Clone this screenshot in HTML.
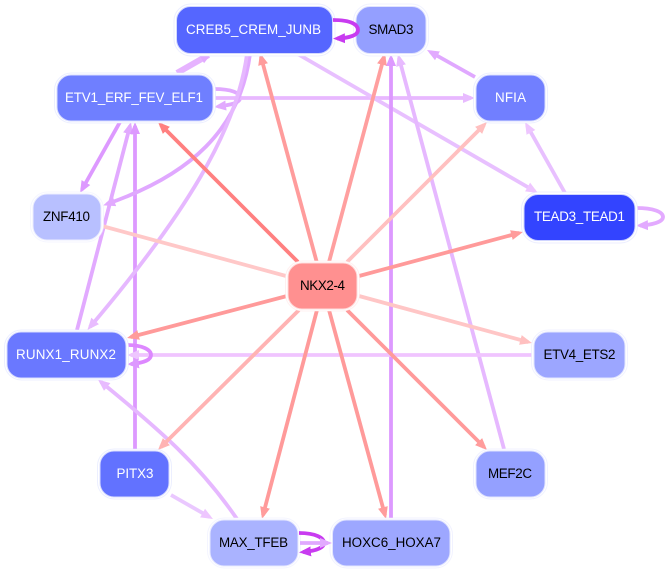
<!DOCTYPE html>
<html>
<head>
<meta charset="utf-8">
<style>
html,body{margin:0;padding:0;background:#fff;}
svg{display:block;}
text{font-family:"Liberation Sans",sans-serif;font-size:13.4px;text-anchor:middle;}
.e{fill:none;stroke-width:3.8;}
.o{fill:#fff;stroke-width:1;stroke-opacity:.6;}
</style>
</head>
<body>
<svg width="666" height="572" viewBox="0 0 666 572" xmlns="http://www.w3.org/2000/svg">
<defs>
<marker id="r1" markerUnits="userSpaceOnUse" markerWidth="12" markerHeight="11" viewBox="0 0 12 11" refX="8" refY="5.500" orient="auto"><path d="M0,.5L12,5.500L0,10.500z" fill="#ff9c9c"/></marker>
<marker id="r2" markerUnits="userSpaceOnUse" markerWidth="12" markerHeight="11" viewBox="0 0 12 11" refX="8" refY="5.500" orient="auto"><path d="M0,.5L12,5.500L0,10.500z" fill="#ff8080"/></marker>
<marker id="r3" markerUnits="userSpaceOnUse" markerWidth="12" markerHeight="11" viewBox="0 0 12 11" refX="8" refY="5.500" orient="auto"><path d="M0,.5L12,5.500L0,10.500z" fill="#ffc0c0"/></marker>
<marker id="r4" markerUnits="userSpaceOnUse" markerWidth="12" markerHeight="11" viewBox="0 0 12 11" refX="8" refY="5.500" orient="auto"><path d="M0,.5L12,5.500L0,10.500z" fill="#ffb3b3"/></marker>
<marker id="p1" markerUnits="userSpaceOnUse" markerWidth="12" markerHeight="11" viewBox="0 0 12 11" refX="8" refY="5.500" orient="auto"><path d="M0,.5L12,5.500L0,10.500z" fill="#dd99ff"/></marker>
<marker id="p2" markerUnits="userSpaceOnUse" markerWidth="12" markerHeight="11" viewBox="0 0 12 11" refX="8" refY="5.500" orient="auto"><path d="M0,.5L12,5.500L0,10.500z" fill="#e2aaff"/></marker>
<marker id="p3" markerUnits="userSpaceOnUse" markerWidth="12" markerHeight="11" viewBox="0 0 12 11" refX="8" refY="5.500" orient="auto"><path d="M0,.5L12,5.500L0,10.500z" fill="#e8bbff"/></marker>
<marker id="p4" markerUnits="userSpaceOnUse" markerWidth="12" markerHeight="11" viewBox="0 0 12 11" refX="8" refY="5.500" orient="auto"><path d="M0,.5L12,5.500L0,10.500z" fill="#eec6ff"/></marker>
<marker id="m1" markerUnits="userSpaceOnUse" markerWidth="12" markerHeight="11" viewBox="0 0 12 11" refX="8" refY="5.500" orient="auto"><path d="M0,.5L12,5.500L0,10.500z" fill="#c83bf0"/></marker>
</defs>

<!-- purple edges -->
<g>
<path class="e" style="stroke-width:6" d="M177,73L208.500,55" stroke="#e6b3ff" marker-end="url(#p2)"/>
<path class="e" d="M214,89C232,89 240,93 240,98C240,103 230,105 218,106.500" stroke="#e0a8ff" marker-end="url(#p2)"/>
<path class="e" d="M214,98L471,98" stroke="#e8b8ff" marker-end="url(#p3)"/>
<path class="e" d="M120,122L82,189.500" stroke="#dd99ff" marker-end="url(#p1)"/>
<path class="e" d="M77,330L130,125.900" stroke="#e2aaff" marker-end="url(#p2)"/>
<path class="e" d="M135,450L135,126" stroke="#dd99ff" marker-end="url(#p1)"/>
<path class="e" d="M250,54C240,130 190,175 107,204" stroke="#e0a8ff" marker-end="url(#p2)"/>
<path class="e" d="M247,54C237,130 185,215 90,327" stroke="#e6b8ff" marker-end="url(#p3)"/>
<path class="e" d="M296,53L534.500,191" stroke="#e8c0ff" marker-end="url(#p4)"/>
<path class="e" d="M475,77L430.500,52" stroke="#e0a8ff" marker-end="url(#p2)"/>
<path class="e" d="M565,193L527,125.500" stroke="#e8c0ff" marker-end="url(#p4)"/>
<path class="e" d="M636,208C654,208 663,212 663,217C663,222 652,225 640,225.500" stroke="#e3aaff" marker-end="url(#p2)"/>
<path class="e" d="M504,449L399,57.900" stroke="#e6b8ff" marker-end="url(#p3)"/>
<path class="e" d="M391,519L391,58" stroke="#dd99ff" marker-end="url(#p1)"/>
<path class="e" d="M533,355L131,355" stroke="#f0c4ff" marker-end="url(#p4)"/>
<path class="e" d="M127,345C143,345 151,350 151,355C151,360 143,363 131,364" stroke="#dd88ff" marker-end="url(#p1)"/>
<path class="e" d="M171,495L209.500,517" stroke="#eac8ff" marker-end="url(#p4)"/>
<path class="e" d="M237,519C200,465 160,430 101,382" stroke="#e6b8ff" marker-end="url(#p3)"/>
</g>

<!-- red edges -->
<g>
<path class="e" d="M317,263L261,56.900" stroke="#ff9c9c" marker-end="url(#r1)"/>
<path class="e" d="M298,262L160.800,124.800" stroke="#ff8080" marker-end="url(#r2)"/>
<path class="e" d="M329,262L384,56.900" stroke="#ff9f9f" marker-end="url(#r1)"/>
<path class="e" d="M347,262L484.200,124.800" stroke="#ffc0c0" marker-end="url(#r3)"/>
<path class="e" d="M359,276L519.100,233" stroke="#ff9a9a" marker-end="url(#r1)"/>
<path class="e" d="M359,296L528.100,342" stroke="#ffc6c6" marker-end="url(#r3)"/>
<path class="e" d="M347,310L484.200,447.200" stroke="#ff9a9a" marker-end="url(#r1)"/>
<path class="e" d="M329,310L385,515.100" stroke="#ff9a9a" marker-end="url(#r1)"/>
<path class="e" d="M317,310L263,515.100" stroke="#ff9a9a" marker-end="url(#r1)"/>
<path class="e" d="M299,310L160.800,447.200" stroke="#ffb3b3" marker-end="url(#r4)"/>
<path class="e" d="M287,296L130.900,337" stroke="#ff9a9a" marker-end="url(#r1)"/>
<path class="e" d="M286,276L102,226" stroke="#ffc8c8"/>
</g>

<!-- nodes -->
<g>
<rect class="o" x="174" y="4" width="161" height="52" rx="17" stroke="#e0e4ff"/>
<rect x="176.500" y="6.500" width="156" height="47" rx="14" fill="#5566ff" stroke="#d4d9ff"/>
<text x="253.500" y="34" fill="#fff" textLength="135">CREB5_CREM_JUNB</text>

<rect class="o" x="353.500" y="4" width="75" height="52" rx="17" stroke="#e6e9ff"/>
<rect x="356" y="6.500" width="70" height="47" rx="14" fill="#949fff" stroke="#e0e3ff"/>
<text x="391" y="34" fill="#000" textLength="45">SMAD3</text>

<rect class="o" x="54.500" y="73" width="161" height="50" rx="17" stroke="#e0e4ff"/>
<rect x="57" y="75" width="156" height="46" rx="14" fill="#6f7fff" stroke="#d8dcff"/>
<text x="134" y="102" fill="#fff" textLength="138">ETV1_ERF_FEV_ELF1</text>

<rect class="o" x="473.500" y="73" width="74" height="50" rx="17" stroke="#e0e4ff"/>
<rect x="476" y="75" width="69" height="46" rx="14" fill="#717fff" stroke="#d8dcff"/>
<text x="510.500" y="102" fill="#fff" textLength="31">NFIA</text>

<rect class="o" x="30.500" y="192" width="73" height="50" rx="17" stroke="#eef0ff"/>
<rect x="33" y="194" width="68" height="46" rx="14" fill="#b8c0ff" stroke="#ebedff"/>
<text x="66.500" y="221" fill="#000" textLength="47">ZNF410</text>

<rect class="o" x="521.500" y="192" width="116" height="51" rx="17" stroke="#dfe3ff"/>
<rect x="524" y="194.500" width="111" height="46" rx="14" fill="#3344ff" stroke="#cfd4ff"/>
<text x="579.500" y="221" fill="#fff" textLength="91">TEAD3_TEAD1</text>

<rect class="o" x="285.500" y="261" width="74" height="50" rx="17" stroke="#ffe6e6"/>
<rect x="288" y="263" width="69" height="46" rx="14" fill="#ff9090" stroke="#ffdcdc"/>
<text x="322.500" y="290" fill="#000" textLength="45">NKX2-4</text>

<rect class="o" x="4.500" y="330" width="124" height="50" rx="17" stroke="#e0e4ff"/>
<rect x="7" y="332" width="119" height="46" rx="14" fill="#6a78ff" stroke="#d8dcff"/>
<text x="66" y="359" fill="#fff" textLength="100">RUNX1_RUNX2</text>

<rect class="o" x="531.500" y="330" width="96" height="50" rx="17" stroke="#e8eaff"/>
<rect x="534" y="332" width="91" height="46" rx="14" fill="#9ca6ff" stroke="#e2e5ff"/>
<text x="579.500" y="359" fill="#000" textLength="72">ETV4_ETS2</text>

<rect class="o" x="97.500" y="449" width="74" height="50" rx="17" stroke="#e0e4ff"/>
<rect x="100" y="451" width="69" height="46" rx="14" fill="#6272ff" stroke="#d8dcff"/>
<text x="135" y="478" fill="#fff" textLength="37">PITX3</text>

<rect class="o" x="473.500" y="449" width="74" height="50" rx="17" stroke="#e6e9ff"/>
<rect x="476" y="451" width="69" height="46" rx="14" fill="#94a0ff" stroke="#e0e3ff"/>
<text x="510" y="478" fill="#000" textLength="44">MEF2C</text>

<rect class="o" x="207.500" y="518" width="93" height="50" rx="17" stroke="#eceeff"/>
<rect x="210" y="520" width="88" height="46" rx="14" fill="#aab3ff" stroke="#e6e8ff"/>
<text x="253.500" y="547" fill="#000" textLength="69">MAX_TFEB</text>

<rect class="o" x="330" y="518" width="122.500" height="50" rx="17" stroke="#e8eaff"/>
<rect x="332.500" y="520" width="117.500" height="46" rx="14" fill="#9da7ff" stroke="#e2e5ff"/>
<text x="391.500" y="547" fill="#000" textLength="99">HOXC6_HOXA7</text>
</g>

<!-- self loops drawn over nodes -->
<g>
<path class="e" d="M299,533C316,533 324,538 324,543C324,548 315,551 303,552" stroke="#c83bf0" marker-end="url(#m1)"/>
<path class="e" d="M300,543L328,543" stroke="#e0a8ff" marker-end="url(#p2)"/>
<path class="e" d="M333,20C352,20 358,25 358,30C358,35 350,38 337,38.500" stroke="#c83bf0" marker-end="url(#m1)"/>
</g>
</svg>
</body>
</html>
